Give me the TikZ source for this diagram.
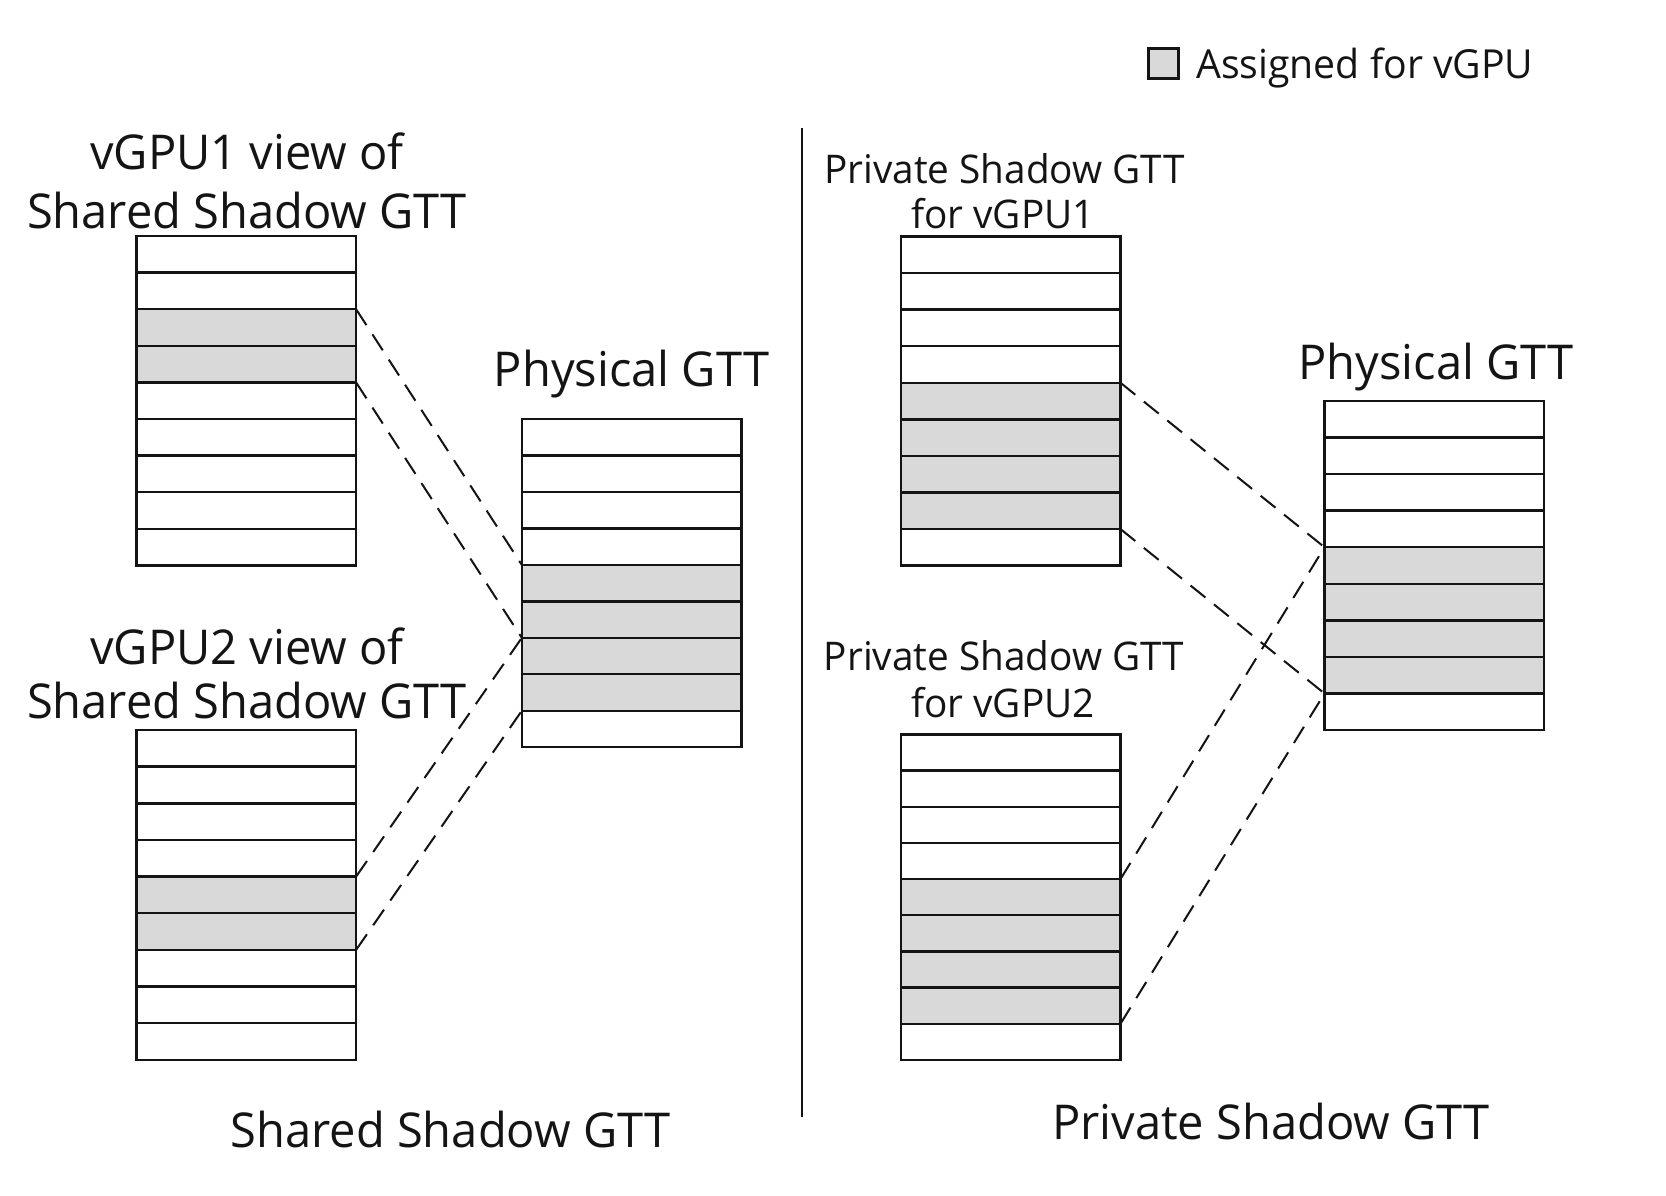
\documentclass[tikz,border=0pt]{standalone}
\usepackage{fontspec}
\setmainfont{Open Sans}[FakeStretch=0.98]
\definecolor{shade}{RGB}{217,217,217}
\definecolor{ink}{RGB}{20,20,20}
\tikzset{
  cell/.style={draw=ink, line width=2.4pt, rectangle, anchor=north west, inner sep=0pt, outer sep=0pt, minimum width=219.5pt},
  map/.style={draw=ink, line width=2pt, dash pattern=on 19pt off 11pt},
  big/.style={font=\fontsize{48}{52}\selectfont, text=ink, inner sep=0pt, anchor=base},
  mid/.style={font=\fontsize{39.5}{44}\selectfont, text=ink, inner sep=0pt, anchor=base},
}
\newcommand{\gtable}[6]{%
  \foreach \i in {1,...,9}{%
    \def\fc{white}%
    \ifnum\i<#5\else\ifnum\i>#6\else\def\fc{shade}\fi\fi
    \node[cell, fill=\fc, minimum height=#4pt] (#1-\i) at (#2, {#3+(\i-1)*#4}) {};
  }%
}
\begin{document}
\begin{tikzpicture}[x=1pt,y=-1pt]
\useasboundingbox[fill=white] (0,0) rectangle (1666,1196);
% tables
\gtable{va}{136.6}{236}{36.6}{3}{4}
\gtable{vb}{136.6}{730}{36.65}{5}{6}
\gtable{pl}{521.8}{419}{36.47}{5}{8}
\gtable{qa}{901}{236.5}{36.57}{5}{8}
\gtable{qb}{901}{734.5}{36.15}{5}{8}
\gtable{pr}{1324.5}{401}{36.56}{5}{8}
% divider
\coordinate (dtop) at (802,128);
\coordinate (dbot) at (802,1117);
\draw[ink, line width=2.4pt] (dtop) -- (dbot);
% left mappings
\draw[map] (va-3.north east) -- (pl-5.north west);
\draw[map] (va-4.south east) -- (pl-6.south west);
\draw[map] (vb-5.north east) -- (pl-6.south west);
\draw[map] (vb-6.south east) -- (pl-8.south west);
% right mappings
\draw[map] (qa-5.north east) -- (pr-5.north west);
\draw[map] (qa-8.south east) -- (pr-8.south west);
\draw[map] (qb-5.north east) -- (pr-5.north west);
\draw[map] (qb-8.south east) -- (pr-8.south west);
% titles left
\node[big] (t1a) at (247,170) {vGPU1 view of};
\node[big] (t1b) at (247,228) {Shared Shadow GTT};
\node[big] (t2a) at (247,664) {vGPU2 view of};
\node[big] (t2b) at (247,718.5) {Shared Shadow GTT};
\node[big] (plab) at (631.5,386.5) {Physical GTT};
\node[big] (lbot) at (450.5,1147) {Shared Shadow GTT};
% titles right
\node[mid] (r1a) at (1004.5,183.7) {Private Shadow GTT};
\node[mid] (r1b) at (1003,229) {for vGPU1};
\node[mid] (r2a) at (1004,670.6) {Private Shadow GTT};
\node[mid] (r2b) at (1003,717.7) {for vGPU2};
\node[big] (prlab) at (1436,379) {Physical GTT};
\node[big] (rbot) at (1271,1139.5) {Private Shadow GTT};
% legend
\node[draw=ink, fill=shade, line width=2.4pt, inner sep=0pt, outer sep=0pt, minimum width=30pt, minimum height=30pt, anchor=north west] (lkey) at (1148.5,48.5) {};
\node[mid, anchor=base west, font=\fontsize{40}{44}\selectfont] (ltext) at (1196,78.5) {Assigned for vGPU};
\end{tikzpicture}
\end{document}
